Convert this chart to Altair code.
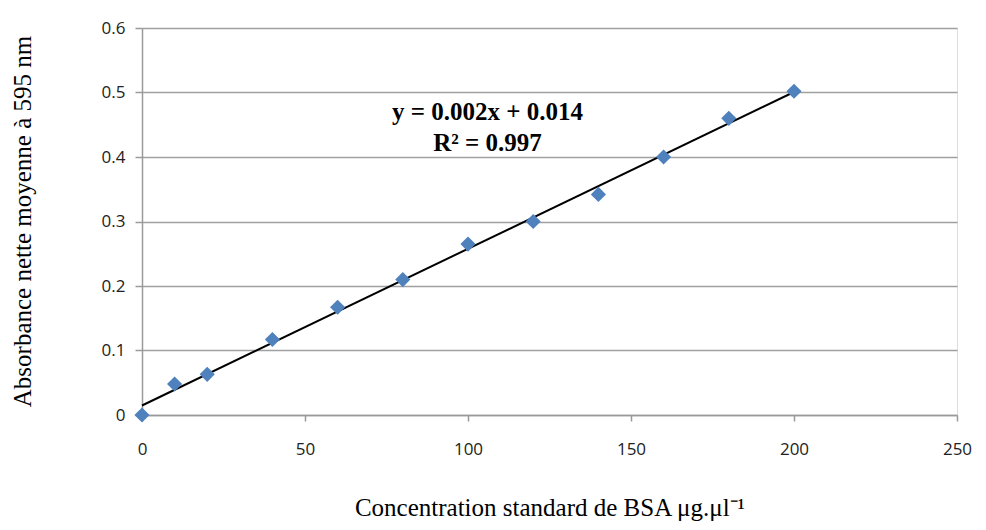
import altair as alt
import pandas as pd

conc = [0, 10, 20, 40, 60, 80, 100, 120, 140, 160, 180, 200]
absorb = [0.0, 0.048, 0.063, 0.117, 0.167, 0.210, 0.265, 0.300, 0.342, 0.400, 0.460, 0.502]
eq_lines = ["y = 0.002x + 0.014", "R² = 0.997"]
eq_x = [106, 106]
eq_y = [0.470, 0.422]

df = pd.DataFrame({"conc": conc, "abs": absorb})
df_eq = pd.DataFrame({"txt": eq_lines, "x": eq_x, "y": eq_y})

xs = alt.Scale(domain=[0, 250], nice=False)
ys = alt.Scale(domain=[0, 0.6], nice=False)

xaxis = alt.Axis(
    title="Concentration standard de BSA μg.μl⁻¹",
    values=[0, 50, 100, 150, 200, 250],
    grid=False, domainColor="#9a9a9a", domainWidth=1.5,
    tickColor="#9a9a9a", tickSize=6, tickWidth=1.5,
    labelFont="Open Sans", labelFontSize=17, labelColor="#222222", labelPadding=20,
    labelFlush=False,
    titleFont="Liberation Serif", titleFontSize=25, titleFontWeight="normal",
    titleColor="#000000", titleY=92, titleBaseline="middle",
)
yaxis = alt.Axis(
    title="Absorbance nette moyenne à 595 nm",
    values=[0, 0.1, 0.2, 0.3, 0.4, 0.5, 0.6],
    format="~g",
    grid=True, gridColor="#a0a0a0", gridWidth=1.5,
    domainColor="#9a9a9a", domainWidth=1.5,
    tickColor="#9a9a9a", tickSize=7, tickWidth=1.5,
    labelFont="Open Sans", labelFontSize=17, labelColor="#222222", labelPadding=10,
    labelFlush=False,
    titleFont="Liberation Serif", titleFontSize=25, titleFontWeight="normal",
    titleColor="#000000", titleX=-120, titleY=193, titleAngle=-90,
    titleAlign="center", titleBaseline="middle",
)

line = alt.Chart(df).transform_regression("conc", "abs").mark_line(
    color="black", strokeWidth=2
).encode(x=alt.X("conc:Q", scale=xs, axis=xaxis), y=alt.Y("abs:Q", scale=ys, axis=yaxis))

points = alt.Chart(df).mark_point(
    shape="diamond", filled=True, color="#4f81bd", size=230, opacity=1
).encode(x=alt.X("conc:Q", scale=xs), y=alt.Y("abs:Q", scale=ys))

text = alt.Chart(df_eq).mark_text(
    font="Liberation Serif", fontSize=25, fontWeight="bold", color="black", align="center", baseline="middle"
).encode(x=alt.X("x:Q", scale=xs), y=alt.Y("y:Q", scale=ys), text="txt:N")

chart = alt.layer(line, points, text).properties(
    width=815, height=387,
    autosize=alt.AutoSizeParams(type="none"),
    padding={"left": 134, "top": 20, "right": 21, "bottom": 107},
).configure_view(stroke=None).configure(background="white")

chart.save("out.html", embed_options={"renderer": "svg", "actions": False})
